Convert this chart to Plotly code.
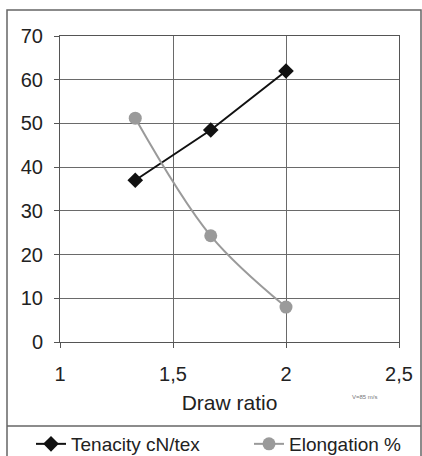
import plotly.graph_objects as go

draw_ratio = [1.333, 1.667, 2.0]
tenacity = [37, 48.5, 62]
elongation = [51.2, 24.3, 8]

W, H = 422, 456
ml, mr, mt, mb = 60, 23, 36, 114
pw, ph = W - ml - mr, H - mt - mb

def px(x):
    return (x - ml) / pw

def py(y):
    return (H - mb - y) / ph

fig = go.Figure()
fig.add_trace(go.Scatter(
    x=draw_ratio, y=tenacity, name="Tenacity cN/tex", mode="lines+markers",
    line=dict(color="#111111", width=2),
    marker=dict(symbol="diamond", size=12, color="#111111"),
    legend="legend",
))
fig.add_trace(go.Scatter(
    x=draw_ratio, y=elongation, name="Elongation %", mode="lines+markers",
    line=dict(color="#9a9a9a", width=2, shape="spline"),
    marker=dict(symbol="circle", size=13, color="#9a9a9a"),
    legend="legend2",
))

font = "Liberation Sans, Arial, sans-serif"
leg_common = dict(
    orientation="h", yanchor="middle", xanchor="left",
    font=dict(size=19, color="#222222"), bgcolor="rgba(0,0,0,0)",
)
fig.update_layout(
    width=W, height=H,
    margin=dict(l=ml, r=mr, t=mt, b=mb, autoexpand=False),
    paper_bgcolor="white", plot_bgcolor="white",
    separators=",.",
    font=dict(family=font, size=20, color="#222222"),
    showlegend=True,
    legend=dict(x=px(31), y=py(444), **leg_common),
    legend2=dict(x=px(249), y=py(444), **leg_common),
    xaxis=dict(
        range=[1, 2.5], dtick=0.5, tick0=1,
        showgrid=True, gridcolor="#6a6a6a", gridwidth=1,
        showline=True, linecolor="#555555", linewidth=1, mirror=True,
        ticks="outside", ticklen=5, tickcolor="#555555", ticklabelstandoff=9,
        title=dict(text="Draw ratio", font=dict(size=21), standoff=11),
        zeroline=False,
    ),
    yaxis=dict(
        range=[0, 70], dtick=10,
        showgrid=True, gridcolor="#6a6a6a", gridwidth=1,
        showline=True, linecolor="#555555", linewidth=1, mirror=True,
        ticks="outside", ticklen=5, tickcolor="#555555", ticklabelstandoff=7,
        zeroline=False,
    ),
    shapes=[
        dict(type="rect", xref="paper", yref="paper",
             x0=px(7), x1=px(421), y0=py(470), y1=py(10),
             line=dict(color="#666666", width=1.5), layer="below"),
        dict(type="line", xref="paper", yref="paper",
             x0=px(7), x1=px(421), y0=py(426), y1=py(426),
             line=dict(color="#666666", width=1.5)),
    ],
    annotations=[
        dict(text="V=85 m/s", xref="paper", yref="paper", x=px(380), y=py(402),
             showarrow=False, font=dict(size=6, color="#777777")),
    ],
)

fig.write_html("out.html")
